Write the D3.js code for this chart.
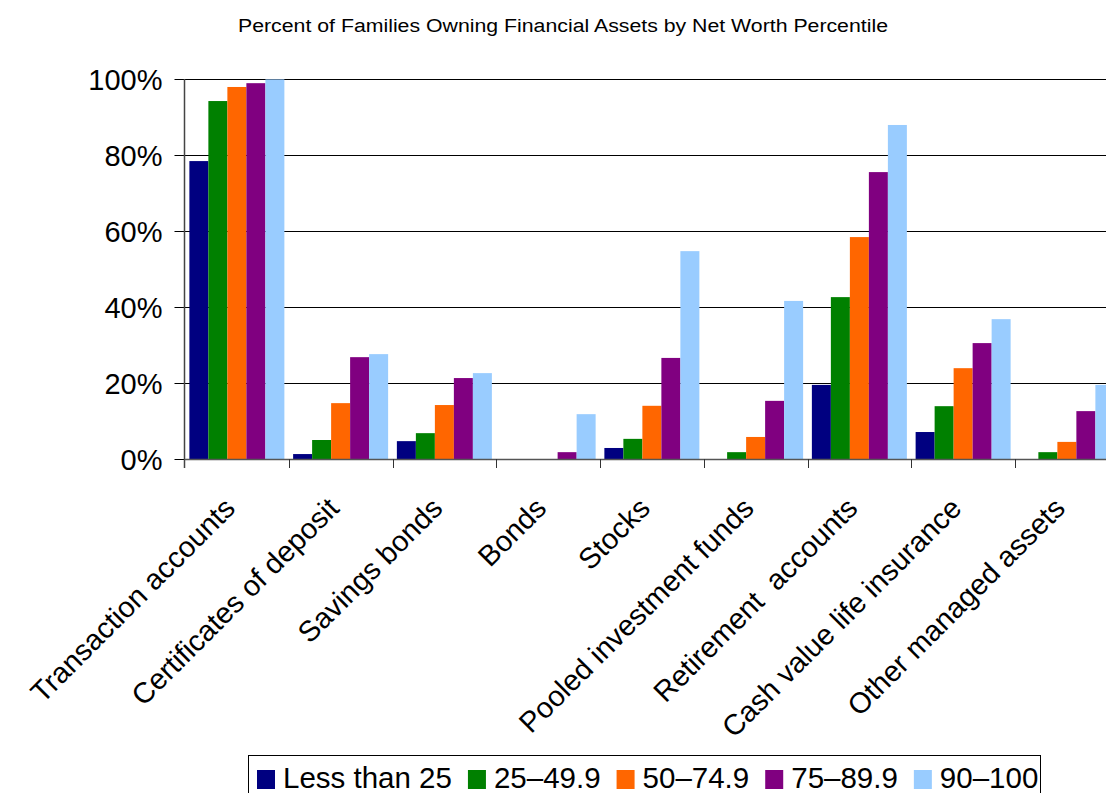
<!DOCTYPE html>
<html>
<head>
<meta charset="utf-8">
<script src="https://d3js.org/d3.v7.min.js"></script>
<style>
  body { margin: 0; background: #fff; }
  svg { display: block; font-family: "Liberation Sans", Arial, sans-serif; }
</style>
</head>
<body>
<div id="chart"></div>
<script>
// chart data
var categories = ["Transaction accounts", "Certificates of deposit", "Savings bonds", "Bonds", "Stocks",
  "Pooled investment funds", "Retirement  accounts", "Cash value life insurance", "Other managed assets"];
var seriesNames = ["Less than 25", "25\u201349.9", "50\u201374.9", "75\u201389.9", "90\u2013100"];
var lessThan25 = [78.4, 1.3, 4.7, 0, 2.9, 0, 19.5, 7.1, 0];
var pct25to49 = [94.2, 5.0, 6.8, 0, 5.3, 1.8, 42.6, 13.9, 1.8];
var pct50to74 = [97.9, 14.7, 14.2, 0, 14.0, 5.8, 58.4, 23.9, 4.5];
var pct75to89 = [98.9, 26.8, 21.3, 1.8, 26.6, 15.3, 75.5, 30.5, 12.6];
var pct90to100 = [99.9, 27.6, 22.6, 11.8, 54.7, 41.6, 87.9, 36.8, 19.5];
var yTicks = [0, 20, 40, 60, 80, 100];

(function() {
  var seriesValues = [lessThan25, pct25to49, pct50to74, pct75to89, pct90to100];
  var colors = ["#000080", "#008000", "#FF6600", "#800080", "#99CCFF"];

  var W = 1106, H = 793;
  var plotLeft = 185, plotRight = 1118.75, plotTop = 79, plotBottom = 459;

  var svg = d3.select("#chart").append("svg")
    .attr("width", W)
    .attr("height", H);

  var x0 = d3.scaleBand().domain(categories).range([plotLeft, plotRight]).padding(0);
  var x1 = d3.scaleBand().domain(seriesNames).range([0, x0.bandwidth()]).paddingInner(0).paddingOuter(0.23);
  var y = d3.scaleLinear().domain([0, 100]).range([plotBottom, plotTop]);

  // title
  svg.append("text")
    .attr("x", 563).attr("y", 32)
    .attr("text-anchor", "middle")
    .attr("font-size", 18)
    .attr("textLength", 650)
    .attr("lengthAdjust", "spacingAndGlyphs")
    .text("Percent of Families Owning Financial Assets by Net Worth Percentile");

  // gridlines
  svg.append("g")
    .selectAll("line")
    .data(yTicks.filter(function(d) { return d > 0; }))
    .enter().append("line")
    .attr("x1", plotLeft).attr("x2", W)
    .attr("y1", function(d) { return Math.round(y(d)) + 0.5; })
    .attr("y2", function(d) { return Math.round(y(d)) + 0.5; })
    .attr("stroke", "#000").attr("stroke-width", 1);

  // bars
  svg.append("g")
    .selectAll("g")
    .data(seriesValues)
    .enter().append("g")
    .attr("fill", function(d, i) { return colors[i]; })
    .selectAll("rect")
    .data(function(vals, si) {
      return vals.map(function(v, ci) { return { s: seriesNames[si], c: categories[ci], v: v }; });
    })
    .enter().append("rect")
    .attr("x", function(d) { return x0(d.c) + x1(d.s); })
    .attr("width", x1.bandwidth())
    .attr("y", function(d) { return y(d.v); })
    .attr("height", function(d) { return y(0) - y(d.v); });

  // y axis
  var yAxis = d3.axisLeft(y)
    .tickValues(yTicks)
    .tickSize(10)
    .tickPadding(12)
    .tickFormat(function(d) { return d + "%"; });

  var gy = svg.append("g")
    .attr("transform", "translate(" + (plotLeft - 0.5) + ",0)")
    .call(yAxis);
  gy.select(".domain").remove();
  gy.selectAll(".tick line").attr("stroke", "#000");
  gy.selectAll(".tick text")
    .attr("font-size", 29)
    .attr("font-family", "Liberation Sans, Arial, sans-serif")
    .attr("fill", "#000")
    .attr("dy", "0.36em");
  gy.append("line")
    .attr("x1", 0).attr("x2", 0)
    .attr("y1", plotTop).attr("y2", plotBottom + 9)
    .attr("stroke", "#444").attr("stroke-width", 1.5);

  // x axis
  var gx = svg.append("g");
  gx.append("line")
    .attr("x1", plotLeft).attr("x2", W)
    .attr("y1", plotBottom + 0.5).attr("y2", plotBottom + 0.5)
    .attr("stroke", "#555").attr("stroke-width", 1.5);
  gx.selectAll("line.cat")
    .data(categories.slice(1))
    .enter().append("line")
    .attr("class", "cat")
    .attr("x1", function(d) { return Math.round(x0(d)) + 0.5; })
    .attr("x2", function(d) { return Math.round(x0(d)) + 0.5; })
    .attr("y1", plotBottom).attr("y2", plotBottom + 9)
    .attr("stroke", "#333").attr("stroke-width", 1);

  gx.selectAll("text")
    .data(categories)
    .enter().append("text")
    .attr("transform", function(d) {
      return "translate(" + (x0(d) + x0.bandwidth() / 2) + "," + 510 + ") rotate(-45)";
    })
    .attr("text-anchor", "end")
    .attr("font-size", 29)
    .style("white-space", "pre")
    .text(function(d) { return d; });

  // legend
  var legend = svg.append("g");
  legend.append("rect")
    .attr("x", 248.5).attr("y", 755.5)
    .attr("width", 792).attr("height", 60)
    .attr("fill", "#fff").attr("stroke", "#000").attr("stroke-width", 1);

  var lx = 257;
  seriesNames.forEach(function(name, i) {
    legend.append("rect")
      .attr("x", lx).attr("y", 770)
      .attr("width", 18).attr("height", 19)
      .attr("fill", colors[i]);
    var t = legend.append("text")
      .attr("x", lx + 26).attr("y", 788)
      .attr("font-size", 29.5)
      .text(name);
    lx = lx + 26 + t.node().getComputedTextLength() + 16;
  });
})();
</script>
</body>
</html>
